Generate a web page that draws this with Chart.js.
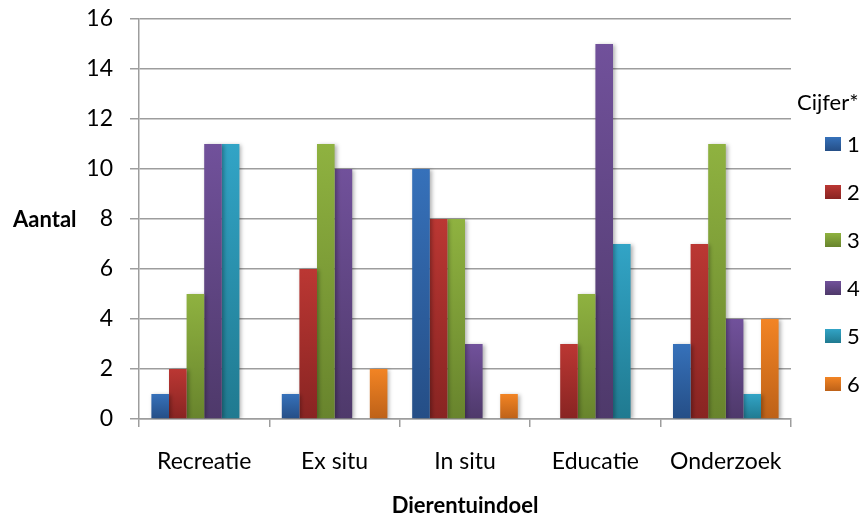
<!DOCTYPE html>
<html>
<head>
<meta charset="utf-8">
<script src="https://cdn.jsdelivr.net/npm/chart.js@4/dist/chart.umd.min.js"></script>
<style>
  html, body { margin: 0; padding: 0; background: #fff; }
  #wrap { width: 867px; height: 517px; position: relative; }
</style>
</head>
<body>
<div id="wrap"><canvas id="chart"></canvas></div>
<script>
// data
const categories = ['Recreatie', 'Ex situ', 'In situ', 'Educatie', 'Onderzoek'];
const seriesNames = ['1', '2', '3', '4', '5', '6'];
const cijfer1 = [1, 1, 10, 0, 3];
const cijfer2 = [2, 6, 8, 3, 7];
const cijfer3 = [5, 11, 8, 5, 11];
const cijfer4 = [11, 10, 3, 15, 4];
const cijfer5 = [11, 0, 0, 7, 1];
const cijfer6 = [0, 2, 1, 0, 4];
const yTicks = [0, 2, 4, 6, 8, 10, 12, 14, 16];

const seriesValues = [cijfer1, cijfer2, cijfer3, cijfer4, cijfer5, cijfer6];

// top / bottom colour of each bar's gradient (Office 2007 look)
const palette = [
  ['#3671ba', '#254e86'],
  ['#bb3733', '#882422'],
  ['#8fb240', '#68842d'],
  ['#71519b', '#4e396a'],
  ['#32a4c6', '#207a90'],
  ['#f28424', '#bd6118'],
];

const FONT = 'Lato, "Open Sans", sans-serif';

function barFill(ctx, i) {
  const chart = ctx.chart;
  const y = chart.scales && chart.scales.y;
  if (!chart.chartArea || !y || ctx.raw == null) return palette[i][0];
  const top = y.getPixelForValue(ctx.raw);
  const bottom = y.getPixelForValue(0);
  if (bottom - top < 1) return palette[i][0];
  const g = chart.ctx.createLinearGradient(0, top, 0, bottom);
  g.addColorStop(0, palette[i][0]);
  g.addColorStop(1, palette[i][1]);
  return g;
}

const barShadow = {
  id: 'barShadow',
  beforeDatasetsDraw(chart) {
    const c = chart.ctx;
    c.save();
    c.shadowColor = 'rgba(0,0,0,0.30)';
    c.shadowBlur = 4;
    c.shadowOffsetX = 2;
    c.shadowOffsetY = 1;
  },
  afterDatasetsDraw(chart) {
    chart.ctx.restore();
  },
};

// horizontal y title + Excel style legend on the right
const extras = {
  id: 'extras',
  afterDraw(chart) {
    const c = chart.ctx;
    const area = chart.chartArea;
    c.save();
    c.fillStyle = '#000';
    c.textBaseline = 'middle';

    c.font = 'bold 22px ' + FONT;
    c.textAlign = 'left';
    c.fillText('Aantal', 13, (area.top + area.bottom) / 2 + 1);

    const lx = area.right + 6;
    c.font = '22px ' + FONT;
    c.fillText('Cijfer*', lx, 103);
    chart.data.datasets.forEach((ds, i) => {
      const cy = 144 + i * 48;
      const g = c.createLinearGradient(0, cy - 7, 0, cy + 7);
      g.addColorStop(0, palette[i][0]);
      g.addColorStop(1, palette[i][1]);
      c.fillStyle = g;
      c.fillRect(lx + 28, cy - 7, 16, 14);
      c.fillStyle = '#000';
      c.fillText(ds.label, lx + 50, cy + 1);
    });
    c.restore();
  },
};

const datasets = seriesValues.map((vals, i) => ({
  label: seriesNames[i],
  data: vals,
  backgroundColor: ctx => barFill(ctx, i),
  borderWidth: 0,
  categoryPercentage: 0.81,
  barPercentage: 1.0,
}));

new Chart(document.getElementById('chart'), {
  type: 'bar',
  data: { labels: categories, datasets },
  options: {
    responsive: true,
    maintainAspectRatio: false,
    animation: false,
    layout: { padding: { left: 0, right: 76, top: 19, bottom: 0 } },
    plugins: {
      legend: { display: false },
      tooltip: { enabled: false },
    },
    scales: {
      x: {
        afterFit: s => { s.height = 98; s.paddingLeft = 0; s.paddingRight = 0; },
        grid: {
          offset: true,
          drawOnChartArea: false,
          drawTicks: true,
          tickLength: 8,
          color: '#9d9d9d',
          lineWidth: 1.5,
        },
        border: { color: '#9d9d9d', width: 1.5 },
        ticks: {
          color: '#000',
          padding: 21,
          font: { family: FONT, size: 23 },
          maxRotation: 0,
        },
        title: {
          display: true,
          text: 'Dierentuindoel',
          color: '#000',
          font: { family: FONT, size: 22, weight: 'bold', lineHeight: 1.0 },
          padding: { top: 0, bottom: 0 },
        },
      },
      y: {
        min: 0,
        max: 16,
        afterFit: s => { s.width = 139; s.paddingTop = 0; s.paddingBottom = 0; },
        afterBuildTicks: s => { s.ticks = yTicks.map(v => ({ value: v })); },
        grid: {
          color: '#9d9d9d',
          lineWidth: 1.5,
          drawTicks: true,
          tickLength: 9,
        },
        border: { color: '#9d9d9d', width: 1.5 },
        ticks: {
          color: '#000',
          padding: 17,
          font: { family: FONT, size: 23 },
        },
      },
    },
  },
  plugins: [barShadow, extras],
});
</script>
</body>
</html>
